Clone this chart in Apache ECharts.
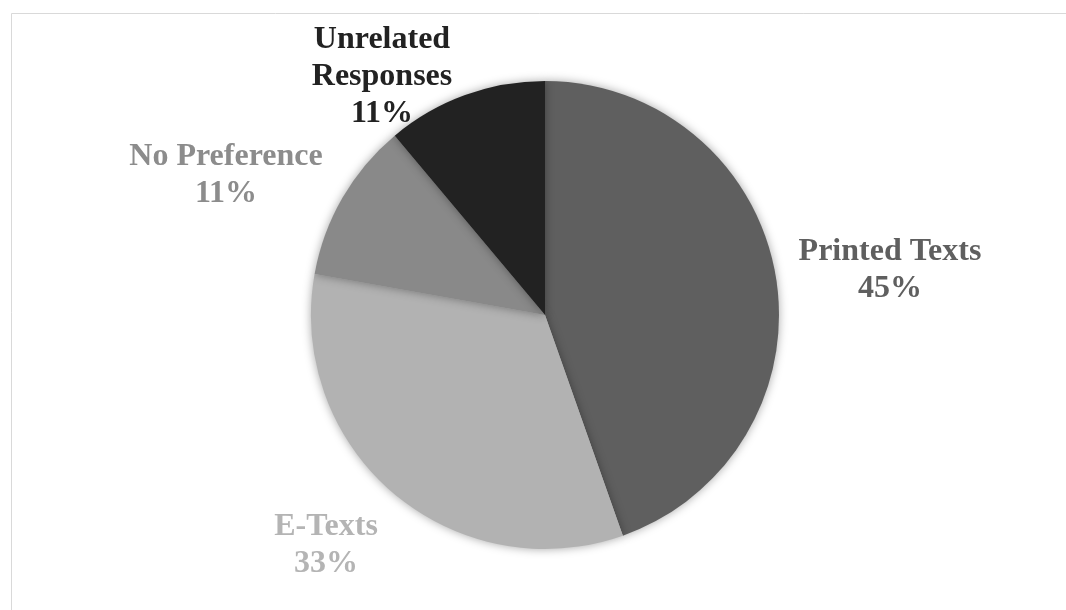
<!DOCTYPE html>
<html>
<head>
<meta charset="utf-8">
<script src="https://cdn.jsdelivr.net/npm/echarts@6/dist/echarts.min.js"></script>
<style>html,body{margin:0;padding:0;background:#fff}#c{width:1066px;height:610px}</style>
</head>
<body>
<div id="c"></div>
<script>
const categories = ['Printed Texts', 'E-Texts', 'No Preference', 'Unrelated\nResponses'];
const values = [44.6, 33.2, 11.1, 11.1];
const colors = ['#5f5f5f', '#b2b2b2', '#898989', '#222222'];
const labelColors = ['#5f5f5f', '#b4b4b4', '#8c8c8c', '#222222'];
// label anchor (centre of label block) positions in pixels
const labelAnchors = [[890, 270], [326, 545], [226, 175], [382, 77]];

const chart = echarts.init(document.getElementById('c'), null, {renderer: 'canvas'});
const total = values.reduce((a, b) => a + b, 0);
chart.setOption({
  animation: false,
  backgroundColor: '#ffffff',
  graphic: [{
    type: 'rect',
    shape: {x: 11.5, y: 13.5, width: 1200, height: 800},
    style: {fill: 'none', stroke: '#d9d9d9', lineWidth: 1},
    silent: true
  }],
  series: [{
    type: 'pie',
    center: [545, 315],
    radius: [0, 234],
    startAngle: 90,
    clockwise: true,
    avoidLabelOverlap: false,
    data: categories.map((c, i) => ({
      name: c,
      value: values[i],
      itemStyle: {color: colors[i]},
      label: {color: labelColors[i]}
    })),
    itemStyle: {
      borderWidth: 0,
      shadowBlur: 10,
      shadowColor: 'rgba(0,0,0,0.35)'
    },
    label: {
      show: true,
      position: 'outside',
      fontFamily: '"Liberation Serif", "Times New Roman", serif',
      fontWeight: 'bold',
      fontSize: 32,
      lineHeight: 37,
      align: 'center',
      formatter: p => p.name + '\n' + Math.round(p.value / total * 100) + '%'
    },
    labelLine: {show: false},
    labelLayout: p => ({
      x: labelAnchors[p.dataIndex][0],
      y: labelAnchors[p.dataIndex][1],
      align: 'center',
      verticalAlign: 'middle'
    })
  }]
});
</script>
</body>
</html>
